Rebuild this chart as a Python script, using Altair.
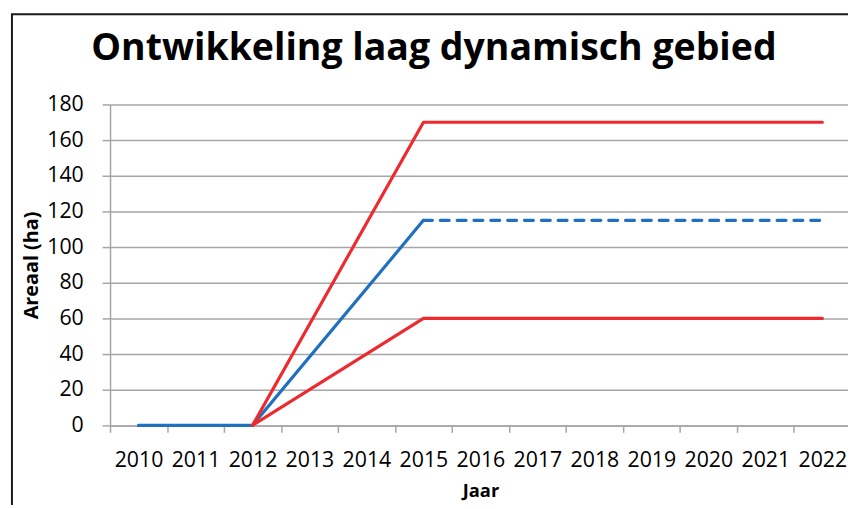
import altair as alt
import pandas as pd

# Data
years = list(range(2010, 2023))
high_years = [2012, 2015, 2022]
high_vals = [0, 170, 170]
low_years = [2012, 2015, 2022]
low_vals = [0, 60, 60]
blue_years = [2010, 2012, 2015]
blue_vals = [0, 0, 115]
blue_dash_years = [2015, 2022]
blue_dash_vals = [115, 115]
title_text = "Ontwikkeling laag dynamisch gebied"

RED = "#EE2A2F"
BLUE = "#1F70BF"
GRID = "#A6A6A6"
FONT = "Open Sans"

def frame(xs, ys, name):
    return pd.DataFrame({"Jaar": xs, "Areaal": ys, "serie": name})

x_scale = alt.Scale(domain=[2009.5, 2022.45], nice=False, zero=False)
y_scale = alt.Scale(domain=[0, 180], nice=False)

boundaries = [y - 0.5 for y in years]

x_axis = alt.Axis(
    values=boundaries,
    labelExpr="format(datum.value + 0.5, 'd')",
    labelOffset=28.75,
    tickSize=7,
    tickColor=GRID,
    tickWidth=1.5,
    domainColor=GRID,
    domainWidth=1.5,
    grid=False,
    labelFont=FONT,
    labelFontSize=21.5,
    labelColor="#000000",
    labelPadding=18,
    labelFlush=False,
    labelOverlap=False,
    title="Jaar",
    titleFont=FONT,
    titleFontSize=18.5,
    titleFontWeight="bold",
    titleColor="#000000",
    titleX=374,
    titleY=66,
    titleBaseline="middle",
)

y_axis = alt.Axis(
    values=list(range(0, 181, 20)),
    tickSize=8,
    tickColor=GRID,
    tickWidth=1.5,
    domainColor=GRID,
    domainWidth=1.5,
    grid=True,
    gridColor=GRID,
    gridWidth=1.5,
    labelFont=FONT,
    labelFontSize=21.5,
    labelColor="#000000",
    labelPadding=19,
    title="Areaal (ha)",
    titleFont=FONT,
    titleFontSize=20,
    titleFontWeight="bold",
    titleColor="#000000",
    titleAngle=270,
    titleX=-79,
    titleY=162,
    titleBaseline="middle",
)

def line(df, color, dash=None):
    kw = dict(color=color, strokeWidth=3.2, strokeCap="round", strokeJoin="round")
    if dash:
        kw["strokeDash"] = dash
    return alt.Chart(df).mark_line(**kw).encode(
        x=alt.X("Jaar:Q", scale=x_scale, axis=x_axis),
        y=alt.Y("Areaal:Q", scale=y_scale, axis=y_axis),
    )

blue_df = frame(blue_years, blue_vals, "blauw")
blue_dash_df = frame(blue_dash_years, blue_dash_vals, "blauw prognose")
high_df = frame(high_years, high_vals, "hoog")
low_df = frame(low_years, low_vals, "laag")

one = alt.Data(values=[{"t": title_text}])

border_left = alt.Chart(one).mark_rule(
    color="#1a1a1a", strokeWidth=2
).encode(x=alt.value(-99), y=alt.value(-91), y2=alt.value(420))
border_top = alt.Chart(one).mark_rule(
    color="#1a1a1a", strokeWidth=2
).encode(x=alt.value(-100), x2=alt.value(760), y=alt.value(-91))

title_mark = alt.Chart(one).mark_text(
    font=FONT, fontSize=37.8, fontWeight="bold", color="#000000",
    align="center", baseline="alphabetic",
).encode(x=alt.value(327), y=alt.value(-45), text="t:N")

chart = alt.layer(
    line(blue_df, BLUE),
    line(high_df, RED),
    line(low_df, RED),
    line(blue_dash_df, BLUE, dash=[9, 8]),
    border_left,
    border_top,
    title_mark,
).properties(
    width=745,
    height=324,
    autosize=alt.AutoSizeParams(type="none"),
    padding={"left": 103, "top": 95, "right": 0, "bottom": 78},
).configure_view(stroke=None)

chart.save("out.html", embed_options={"renderer": "svg", "actions": False})
